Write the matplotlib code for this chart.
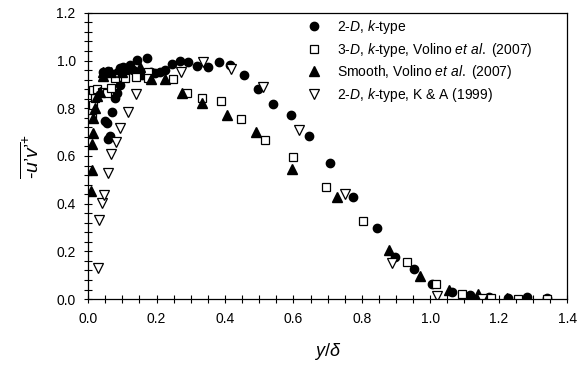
import matplotlib
matplotlib.use("Agg")
import matplotlib.pyplot as plt
from matplotlib.ticker import MultipleLocator, FormatStrFormatter

plt.rcParams['font.family'] = ['Liberation Sans', 'DejaVu Sans']
plt.rcParams['mathtext.fontset'] = 'custom'
plt.rcParams['mathtext.rm'] = 'Liberation Sans'
plt.rcParams['mathtext.it'] = 'Liberation Sans:italic'
plt.rcParams['mathtext.bf'] = 'Liberation Sans:bold'

# 2-D, k-type
c_x = [0.044, 0.058, 0.049, 0.054, 0.058, 0.063, 0.070, 0.078, 0.083, 0.093,
       0.075, 0.088, 0.093, 0.102, 0.112, 0.122, 0.130, 0.143, 0.156, 0.173,
       0.185, 0.195, 0.210, 0.224, 0.246, 0.268, 0.292, 0.319, 0.349, 0.382,
       0.416, 0.455, 0.497, 0.541, 0.592, 0.646, 0.707, 0.773, 0.843, 0.898,
       0.952, 1.006, 1.063, 1.116, 1.173, 1.228, 1.284, 1.340]
c_y = [0.953, 0.956, 0.748, 0.739, 0.670, 0.684, 0.783, 0.842, 0.862, 0.897,
       0.945, 0.950, 0.967, 0.974, 0.958, 0.981, 0.960, 1.002, 0.939, 1.009,
       0.950, 0.946, 0.952, 0.960, 0.984, 0.998, 0.995, 0.977, 0.974, 0.995,
       0.981, 0.939, 0.879, 0.816, 0.771, 0.685, 0.572, 0.429, 0.296, 0.177,
       0.126, 0.063, 0.028, 0.017, 0.010, 0.005, 0.007, 0.003]

# 3-D, k-type, Volino et al. (2007)
s_x = [0.010, 0.012, 0.015, 0.020, 0.015, 0.026, 0.039, 0.054, 0.068, 0.078,
       0.107, 0.141, 0.175, 0.175, 0.249, 0.288, 0.334, 0.387, 0.446, 0.517,
       0.598, 0.694, 0.804, 0.931, 1.016, 1.094, 1.177, 1.257, 1.340]
s_y = [0.764, 0.792, 0.814, 0.842, 0.876, 0.879, 0.869, 0.862, 0.883, 0.928,
       0.925, 0.932, 0.953, 0.925, 0.922, 0.865, 0.842, 0.830, 0.753, 0.667,
       0.597, 0.468, 0.327, 0.156, 0.063, 0.020, 0.006, 0.000, 0.000]

# Smooth, Volino et al. (2007)
t_x = [0.008, 0.010, 0.012, 0.013, 0.015, 0.020, 0.025, 0.035, 0.044, 0.044,
       0.068, 0.100, 0.151, 0.185, 0.226, 0.273, 0.334, 0.405, 0.490, 0.595,
       0.726, 0.880, 0.970, 1.056, 1.140, 1.225]
t_y = [0.454, 0.541, 0.650, 0.697, 0.760, 0.800, 0.850, 0.870, 0.935, 0.953,
       0.953, 0.950, 0.974, 0.922, 0.922, 0.865, 0.823, 0.771, 0.701, 0.544,
       0.429, 0.205, 0.098, 0.038, 0.021, 0.005]

# 2-D, k-type, K & A (1999)
d_x = [0.029, 0.032, 0.039, 0.047, 0.058, 0.068, 0.081, 0.093, 0.115, 0.141,
       0.270, 0.336, 0.417, 0.510, 0.617, 0.751, 0.887, 1.019, 1.150]
d_y = [0.129, 0.331, 0.404, 0.436, 0.530, 0.608, 0.658, 0.716, 0.786, 0.860,
       0.953, 0.995, 0.963, 0.888, 0.709, 0.440, 0.150, 0.013, 0.000]

labels = [r"$\it{2}$-$\it{D}$, $\it{k}$-type",
          r"$\it{3}$-$\it{D}$, $\it{k}$-type, Volino $\it{et\ al.}$ (2007)",
          r"Smooth, Volino $\it{et\ al.}$ (2007)",
          r"$\it{2}$-$\it{D}$, $\it{k}$-type, K & A (1999)"]

fig = plt.figure(figsize=(5.84, 3.67), dpi=100)
ax = fig.add_axes([0.151, 0.185, 0.820, 0.780])

ax.plot(c_x, c_y, 'o', color='black', ms=6, linestyle='none', label=labels[0])
ax.plot(s_x, s_y, 's', mfc='white', mec='black', mew=0.9, ms=5.5, linestyle='none', label=labels[1])
ax.plot(t_x, t_y, '^', color='black', ms=6.5, linestyle='none', label=labels[2])
ax.plot(d_x, d_y, 'v', mfc='white', mec='black', mew=0.9, ms=6.5, linestyle='none', label=labels[3])

ax.set_xlim(0, 1.4)
ax.set_ylim(0, 1.2)
ax.xaxis.set_major_locator(MultipleLocator(0.2))
ax.xaxis.set_minor_locator(MultipleLocator(0.05))
ax.yaxis.set_major_locator(MultipleLocator(0.2))
ax.yaxis.set_minor_locator(MultipleLocator(0.04))
ax.xaxis.set_major_formatter(FormatStrFormatter('%.1f'))
ax.yaxis.set_major_formatter(FormatStrFormatter('%.1f'))
ax.tick_params(which='both', direction='inout', length=6, width=0.8, labelsize=10,
               top=False, right=False, colors='black')
ax.tick_params(which='major', pad=6)
for sp in ax.spines.values():
    sp.set_linewidth(0.9)
    sp.set_color('black')

ax.set_xlabel(r"$\it{y/\delta}$", fontsize=13, labelpad=11)
ax.set_ylabel("$\\overline{\\mathit{\u2010u\u2019v\u2019}}^{+}$", fontsize=14, labelpad=10)

leg = ax.legend(loc='upper left', bbox_to_anchor=(0.43, 1.025), frameon=False,
                fontsize=10, handlelength=1.0, handletextpad=1.2, labelspacing=0.32,
                borderpad=0.4)

fig.savefig('out.png', dpi=100)
